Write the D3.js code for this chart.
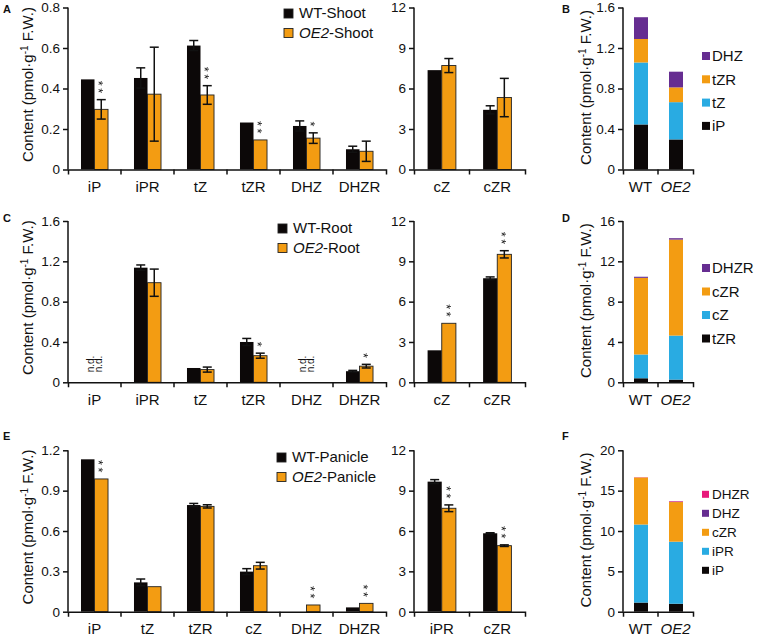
<!DOCTYPE html>
<html><head><meta charset="utf-8">
<script src="https://cdn.jsdelivr.net/npm/d3@7"></script>
<style>
body{margin:0;background:#fff}
svg{display:block}
text{font-family:"Liberation Sans",Arial,Helvetica,sans-serif;fill:#111}
</style>
</head><body>
<svg id="c" width="758" height="637"><defs><filter id="gray" x="-50%" y="-50%" width="200%" height="200%"><feColorMatrix type="saturate" values="0"/></filter></defs></svg>
<script>
// ---------------- DATA ----------------
// Shoot (panel A / B)
const shootCats = ["iP","iPR","tZ","tZR","DHZ","DHZR"];
const shootWT = [0.445, 0.452, 0.612, 0.232, 0.215, 0.10];
const shootWTErr = [0, 0.05, 0.025, 0, 0.025, 0.015];
const shootOE = [0.297, 0.372, 0.368, 0.146, 0.155, 0.09];
const shootOEErr = [0.048, 0.232, 0.046, 0, 0.026, 0.05];
const shootSig = ["**","","**","**","*",""];
const shootCats2 = ["cZ","cZR"];
const shootWT2 = [7.36, 4.42];
const shootWT2Err = [0, 0.3];
const shootOE2 = [7.7, 5.33];
const shootOE2Err = [0.52, 1.42];
const shootSig2 = ["",""];
const shootTicks = [0, 0.2, 0.4, 0.6, 0.8];
const rightTicks = [0, 3, 6, 9, 12];
const stackBKeys = ["iP","tZ","tZR","DHZ"];
const stackBWT = [0.445, 0.612, 0.232, 0.215];
const stackBOE = [0.297, 0.368, 0.146, 0.155];
const stackBTicks = [0, 0.4, 0.8, 1.2, 1.6];

// Root (panel C / D)
const rootCats = ["iP","iPR","tZ","tZR","DHZ","DHZR"];
const rootWT = [0, 1.137, 0.142, 0.40, 0, 0.11];
const rootWTErr = [0, 0.027, 0, 0.035, 0, 0.008];
const rootOE = [0, 0.988, 0.126, 0.264, 0, 0.16];
const rootOEErr = [0, 0.135, 0.025, 0.025, 0, 0.018];
const rootSig = ["","","","*","","*"];
const rootND = [true,false,false,false,true,false];
const rootCats2 = ["cZ","cZR"];
const rootWT2 = [2.38, 7.74];
const rootWT2Err = [0, 0.1];
const rootOE2 = [4.39, 9.52];
const rootOE2Err = [0, 0.27];
const rootSig2 = ["**","**"];
const rootTicks = [0, 0.4, 0.8, 1.2, 1.6];
const stackDKeys = ["tZR","cZ","cZR","DHZR"];
const stackDWT = [0.40, 2.36, 7.6, 0.11];
const stackDOE = [0.264, 4.37, 9.52, 0.14];
const stackDTicks = [0, 4, 8, 12, 16];

// Panicle (panel E / F)
const panCats = ["iP","tZ","tZR","cZ","DHZ","DHZR"];
const panWT = [1.133, 0.218, 0.793, 0.298, 0, 0.032];
const panWTErr = [0, 0.025, 0.012, 0.022, 0, 0];
const panOE = [0.987, 0.186, 0.783, 0.342, 0.05, 0.062];
const panOEErr = [0, 0, 0.012, 0.025, 0, 0];
const panSig = ["**","","","","**","**"];
const panCats2 = ["iPR","cZR"];
const panWT2 = [9.67, 5.83];
const panWT2Err = [0.15, 0.04];
const panOE2 = [7.69, 4.91];
const panOE2Err = [0.25, 0.06];
const panSig2 = ["**","**"];
const panTicks = [0, 0.3, 0.6, 0.9, 1.2];
const stackFKeys = ["iP","iPR","cZR","DHZ","DHZR"];
const stackFWT = [1.133, 9.67, 5.83, 0, 0.032];
const stackFOE = [0.987, 7.69, 4.91, 0.05, 0.062];
const stackFTicks = [0, 5, 10, 15, 20];

const groups = ["WT","OE2"];

// ---------------- STYLE ----------------
const BLACK = "#0c0808", ORANGE = "#f39c12", BLUE = "#29abe2", PURPLE = "#662d91", PINK = "#e8197b";
const svg = d3.select("#c");
const rows = [{top:7.5, bot:169.5}, {top:221, bot:382.3}, {top:450.3, bot:611.7}];
const tickFmt = d => d === 0 ? "0" : (Number.isInteger(d) ? String(d) : d3.format(".1f")(d));

function yTitle(x, yc) {
  const t = svg.append("text").attr("transform", `translate(${x},${yc}) rotate(-90)`)
    .attr("text-anchor","middle").attr("font-size", 15);
  t.append("tspan").text("Content (pmol\u00b7g");
  t.append("tspan").attr("dy",-5).attr("font-size",10).text("-1");
  t.append("tspan").attr("dy",5).text(" F.W.)");
}

function yAxis(y, x0, ticks) {
  const g = svg.append("g").attr("transform", `translate(${x0},0)`)
    .call(d3.axisLeft(y).tickValues(ticks).tickSize(5).tickPadding(3).tickSizeOuter(0).tickFormat(tickFmt));
  g.selectAll("path,line").attr("stroke","#111").attr("stroke-width",1.5);
  g.selectAll("text").attr("font-size",13.5).attr("font-family",null).style("fill","#111");
  g.select(".domain").attr("d", `M0,${y.range()[1]}V${y.range()[0]}`);
}

function xAxis(x, bot, fontSize, italicOE) {
  const g = svg.append("g").attr("transform", `translate(0,${bot})`)
    .call(d3.axisBottom(x).tickSize(0).tickPadding(12).tickSizeOuter(5));
  g.selectAll("path,line").attr("stroke","#111").attr("stroke-width",1.5);
  g.selectAll("text").attr("font-size",fontSize).attr("font-family",null).style("fill","#111");
  if (italicOE) g.selectAll("text").filter(d => d === "OE2").attr("font-style","italic");
  const b = x.domain().slice(1).map(c => x(c));
  g.selectAll("line.bt").data(b).enter().append("line").attr("class","bt")
    .attr("x1",d=>d).attr("x2",d=>d).attr("y1",0).attr("y2",5).attr("stroke","#111").attr("stroke-width",1.5);
}

function errBar(cx, y, v, e) {
  if (!e) return;
  const g = svg.append("g").attr("stroke","#111").attr("stroke-width",1.5);
  g.append("line").attr("x1",cx).attr("x2",cx).attr("y1",y(v+e)).attr("y2",y(Math.max(0,v-e)));
  [v+e, v-e].forEach(val => {
    if (val < 0) return;
    g.append("line").attr("x1",cx-4.5).attr("x2",cx+4.5).attr("y1",y(val)).attr("y2",y(val));
  });
}

// significance stars: stacked vertically, written as one text string turned 90deg
function stars(cx, topY, s) {
  if (!s) return;
  const fs = 12.5, adv = 0.389*fs, gap = 7.5;
  const n = s.length;
  const firstC = topY - 9 - (n-1)*gap;
  const ax = cx - 0.57*fs, ay = firstC - 0.195*fs;
  svg.append("g").attr("filter","url(#gray)")
    .append("text").attr("transform", `translate(${ax},${ay}) rotate(90)`)
    .attr("font-size", fs).attr("letter-spacing", gap - adv).style("fill","#111").text(s);
}

function grouped(cfg) {
  const x = d3.scaleBand().domain(cfg.cats).range([cfg.x0, cfg.x1]);
  const y = d3.scaleLinear().domain([0, cfg.ticks[cfg.ticks.length-1]]).range([cfg.bot, cfg.top]);
  const bw = x.bandwidth()*0.255;
  cfg.cats.forEach((c, i) => {
    const cx = x(c) + x.bandwidth()/2;
    const wv = cfg.wt[i], ov = cfg.oe[i];
    if (wv > 0) svg.append("rect").attr("x",cx-bw).attr("width",bw).attr("y",y(wv)).attr("height",cfg.bot-y(wv)).attr("fill",BLACK);
    if (ov > 0) svg.append("rect").attr("x",cx).attr("width",bw).attr("y",y(ov)).attr("height",cfg.bot-y(ov))
      .attr("fill",ORANGE).attr("stroke","#222").attr("stroke-width",0.9);
    errBar(cx-bw/2, y, wv, cfg.wtErr[i]);
    errBar(cx+bw/2, y, ov, cfg.oeErr[i]);
    stars(cx+bw/2, y(ov + (cfg.oeErr[i]||0)), cfg.sig[i]);
    if (cfg.nd && cfg.nd[i]) {
      const t = svg.append("text").attr("transform",`translate(${cx},${cfg.bot-10}) rotate(-90)`).attr("font-size",10);
      t.append("tspan").attr("x",0).attr("y",-0.8).text("n.d.");
      t.append("tspan").attr("x",0).attr("y",7.6).text("n.d.");
    }
  });
  yAxis(y, cfg.x0, cfg.ticks);
  xAxis(x, cfg.bot, 15, false);
}

function legendGrouped(x, y, tissue) {
  [[BLACK,"WT",null],[ORANGE,"OE2",1]].forEach((d, k) => {
    const yy = y + k*19.5;
    svg.append("rect").attr("x",x).attr("y",yy-9).attr("width",9).attr("height",9)
      .attr("fill",d[0]).attr("stroke","#222").attr("stroke-width",0.9);
    const t = svg.append("text").attr("x",x+15).attr("y",yy).attr("font-size",15);
    t.append("tspan").attr("font-style", d[2] ? "italic" : null).text(d[1]);
    t.append("tspan").text("-" + tissue);
  });
}

function stacked(cfg) {
  const table = groups.map((g, gi) => {
    const o = {grp: g};
    cfg.keys.forEach((k, ki) => o[k] = (gi === 0 ? cfg.wt : cfg.oe)[ki]);
    return o;
  });
  const series = d3.stack().keys(cfg.keys)(table);
  const x = d3.scaleBand().domain(groups).range([623, 693]);
  const y = d3.scaleLinear().domain([0, cfg.ticks[cfg.ticks.length-1]]).range([cfg.bot, cfg.top]);
  const bw = 14;
  series.forEach(s => {
    svg.append("g").attr("fill", cfg.colors[s.key]).selectAll("rect").data(s).enter().append("rect")
      .attr("x", d => x(d.data.grp) + x.bandwidth()/2 - bw/2 + 0.5).attr("width", bw)
      .attr("y", d => y(d[1])).attr("height", d => y(d[0]) - y(d[1]));
  });
  yAxis(y, 623, cfg.ticks);
  xAxis(x, cfg.bot, 15, true);
  const ks = cfg.keys.slice().reverse();
  ks.forEach((k, i) => {
    const cy = cfg.legY + i*cfg.legStep;
    svg.append("rect").attr("x",702).attr("y",cy-cfg.sq/2).attr("width",cfg.sq).attr("height",cfg.sq).attr("fill",cfg.colors[k]);
    svg.append("text").attr("x",712).attr("y",cy+cfg.fs*0.36).attr("font-size",cfg.fs).text(k);
  });
}

function panelLetter(l, x, y) {
  svg.append("text").attr("x",x).attr("y",y).attr("font-size",11).attr("font-weight","bold").text(l);
}

// ---------------- PANELS ----------------
const specs = [
  {row: rows[0], cats: shootCats, wt: shootWT, wtErr: shootWTErr, oe: shootOE, oeErr: shootOEErr, sig: shootSig, ticks: shootTicks,
   cats2: shootCats2, wt2: shootWT2, wt2Err: shootWT2Err, oe2: shootOE2, oe2Err: shootOE2Err, sig2: shootSig2,
   tissue: "Shoot", leg: [284, 18], L: ["A","B"], letY: 13,
   st: {keys: stackBKeys, wt: stackBWT, oe: stackBOE, ticks: stackBTicks, colors: {iP:BLACK, tZ:BLUE, tZR:ORANGE, DHZ:PURPLE}, legY: 56, legStep: 23.3, sq: 8, fs: 15}},
  {row: rows[1], cats: rootCats, wt: rootWT, wtErr: rootWTErr, oe: rootOE, oeErr: rootOEErr, sig: rootSig, nd: rootND, ticks: rootTicks,
   cats2: rootCats2, wt2: rootWT2, wt2Err: rootWT2Err, oe2: rootOE2, oe2Err: rootOE2Err, sig2: rootSig2,
   tissue: "Root", leg: [278, 233], L: ["C","D"], letY: 222,
   st: {keys: stackDKeys, wt: stackDWT, oe: stackDOE, ticks: stackDTicks, colors: {tZR:BLACK, cZ:BLUE, cZR:ORANGE, DHZR:PURPLE}, legY: 268, legStep: 23.5, sq: 8, fs: 15}},
  {row: rows[2], cats: panCats, wt: panWT, wtErr: panWTErr, oe: panOE, oeErr: panOEErr, sig: panSig, ticks: panTicks,
   cats2: panCats2, wt2: panWT2, wt2Err: panWT2Err, oe2: panOE2, oe2Err: panOE2Err, sig2: panSig2,
   tissue: "Panicle", leg: [277, 462], L: ["E","F"], letY: 440,
   st: {keys: stackFKeys, wt: stackFWT, oe: stackFOE, ticks: stackFTicks, colors: {iP:BLACK, iPR:BLUE, cZR:ORANGE, DHZ:PURPLE, DHZR:PINK}, legY: 494.3, legStep: 19, sq: 7, fs: 13.5}}
];

specs.forEach(p => {
  const {top, bot} = p.row;
  grouped({x0: 68, x1: 386, top, bot, cats: p.cats, wt: p.wt, wtErr: p.wtErr, oe: p.oe, oeErr: p.oeErr, sig: p.sig, nd: p.nd, ticks: p.ticks});
  grouped({x0: 414, x1: 525, top, bot, cats: p.cats2, wt: p.wt2, wtErr: p.wt2Err, oe: p.oe2, oeErr: p.oe2Err, sig: p.sig2, ticks: rightTicks});
  legendGrouped(p.leg[0], p.leg[1], p.tissue);
  yTitle(33, (top+bot)/2 - 4);
  stacked(Object.assign({top, bot}, p.st));
  yTitle(591, (top+bot)/2 - 1);
  panelLetter(p.L[0], 3, p.letY);
  panelLetter(p.L[1], 562, p.letY);
});
</script>
</body></html>
